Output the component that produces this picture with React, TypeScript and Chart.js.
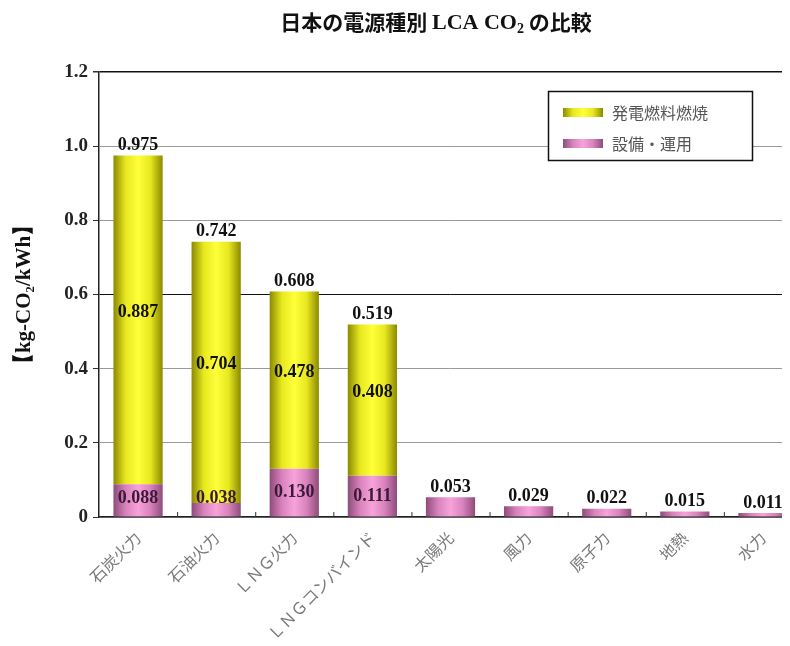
import React, { useEffect, useRef } from "react";
import { Chart, registerables } from "chart.js";

Chart.register(...registerables);

const categories = ["石炭火力", "石油火力", "ＬＮＧ火力", "ＬＮＧコンバインド", "太陽光", "風力", "原子力", "地熱", "水力"];
const facilityValues = [0.088, 0.038, 0.13, 0.111, 0.053, 0.029, 0.022, 0.015, 0.011];
const fuelValues = [0.887, 0.704, 0.478, 0.408, 0, 0, 0, 0, 0];
const totalLabels = ["0.975", "0.742", "0.608", "0.519", "0.053", "0.029", "0.022", "0.015", "0.011"];
const seriesNames = ["発電燃料燃焼", "設備・運用"];
const yTicks = [0, 0.2, 0.4, 0.6, 0.8, 1.0, 1.2];

const BAR_PCT = 0.63;
const YELLOW = ["#8a8a00", "#e8e820", "#ffff3a", "#e8e820", "#8a8a00"];
const PINK = ["#8e4c78", "#d982bd", "#f7a3da", "#d982bd", "#8e4c78"];
const SERIF = "'Liberation Serif', 'Times New Roman', serif";
const GOTHIC = "'Noto Sans CJK JP', sans-serif";

function makeGrad(c: CanvasRenderingContext2D, x0: number, x1: number, stops: string[]) {
  const g = c.createLinearGradient(x0, 0, x1, 0);
  stops.forEach((s, i) => g.addColorStop(i / (stops.length - 1), s));
  return g;
}

function barGrad(stops: string[]) {
  return (ctx: any) => {
    const chart = ctx.chart;
    if (!chart.chartArea || ctx.dataIndex === undefined) return stops[2];
    const xs = chart.scales.x;
    const c = xs.getPixelForValue(ctx.dataIndex);
    const w = (xs.width / categories.length) * BAR_PCT;
    return makeGrad(chart.ctx, c - w / 2, c + w / 2, stops);
  };
}

const labelPlugin = {
  id: "barLabels",
  afterDatasetsDraw(chart: any) {
    const c = chart.ctx;
    const pinkMeta = chart.getDatasetMeta(0);
    const yellowMeta = chart.getDatasetMeta(1);
    c.save();
    c.textAlign = "center";
    c.font = `bold 18px ${SERIF}`;
    categories.forEach((_, i) => {
      const p = pinkMeta.data[i];
      const y = yellowMeta.data[i];
      const top = fuelValues[i] > 0 ? y.y : p.y;
      c.fillStyle = "#111";
      c.textBaseline = "bottom";
      c.fillText(totalLabels[i], p.x, top - 1);
      if (fuelValues[i] > 0) {
        c.textBaseline = "middle";
        c.fillText(fuelValues[i].toFixed(3), y.x, (y.y + y.base) / 2 - 8);
        c.fillStyle = "#3a1a38";
        const mid = Math.min((p.y + p.base) / 2, p.base - 18);
        c.fillText(facilityValues[i].toFixed(3), p.x, mid);
      }
    });
    c.restore();
  },
};

const decorPlugin = {
  id: "decor",
  afterDraw(chart: any) {
    const c = chart.ctx;
    const area = chart.chartArea;
    const xs = chart.scales.x;
    c.save();
    c.strokeStyle = "#333";
    c.lineWidth = 1;
    for (let i = 1; i < categories.length; i++) {
      const bx = xs.getPixelForValue(i) - xs.width / categories.length / 2;
      c.beginPath();
      c.moveTo(bx + 0.5, area.bottom);
      c.lineTo(bx + 0.5, area.bottom - 5);
      c.stroke();
    }
    // title
    const parts: [string, string, number][] = [
      ["日本の電源種別 ", `bold 21px ${GOTHIC}`, 0],
      ["LCA CO", `bold 22px ${SERIF}`, 1],
      ["2", `bold 14px ${SERIF}`, 7],
      [" の比較", `bold 21px ${GOTHIC}`, 0],
    ];
    let total = 0;
    parts.forEach(([t, f]) => {
      c.font = f;
      total += c.measureText(t).width;
    });
    let x = 428 - total / 2;
    c.fillStyle = "#111";
    c.textBaseline = "middle";
    c.textAlign = "left";
    parts.forEach(([t, f, dy]) => {
      c.font = f;
      c.fillText(t, x, 14 + dy);
      x += c.measureText(t).width;
    });
    // legend
    const lx = 540, ly = 83, lw = 204, lh = 69;
    c.fillStyle = "#fff";
    c.fillRect(lx, ly, lw, lh);
    c.strokeStyle = "#111";
    c.lineWidth = 1.5;
    c.strokeRect(lx + 0.5, ly + 0.5, lw, lh);
    const items: [string, string[]][] = [
      [seriesNames[0], YELLOW],
      [seriesNames[1], PINK],
    ];
    items.forEach(([name, stops], k) => {
      const sy = ly + 17 + k * 31;
      c.fillStyle = makeGrad(c, lx + 15, lx + 55, stops);
      c.fillRect(lx + 15, sy, 40, 9);
      c.fillStyle = "#555";
      c.font = `16px ${GOTHIC}`;
      c.textBaseline = "middle";
      c.fillText(name, lx + 64, sy + 5);
    });
    c.restore();
  },
};

export default function App() {
  const ref = useRef<HTMLCanvasElement>(null);
  useEffect(() => {
    if (!ref.current) return;
    const chart = new Chart(ref.current, {
      type: "bar",
      data: {
        labels: categories,
        datasets: [
          {
            label: seriesNames[1],
            data: facilityValues,
            backgroundColor: barGrad(PINK),
            borderWidth: 0,
            barPercentage: BAR_PCT,
            categoryPercentage: 1,
          },
          {
            label: seriesNames[0],
            data: fuelValues,
            backgroundColor: barGrad(YELLOW),
            borderWidth: 0,
            barPercentage: BAR_PCT,
            categoryPercentage: 1,
          },
        ],
      },
      options: {
        animation: false,
        responsive: false,
        maintainAspectRatio: false,
        layout: { padding: { top: 64, right: 6, left: 0, bottom: 0 } },
        plugins: {
          legend: { display: false },
          title: { display: false },
          tooltip: { enabled: false },
        },
        scales: {
          x: {
            stacked: true,
            grid: { display: false },
            border: { color: "#222", width: 1.5 },
            ticks: {
              minRotation: 45,
              maxRotation: 45,
              autoSkip: false,
              color: "#7a7a7a",
              padding: 3,
              font: { family: GOTHIC, size: 16 },
            },
            afterFit: (s: any) => {
              s.height = 121;
            },
          },
          y: {
            stacked: true,
            min: 0,
            max: 1.2,
            afterBuildTicks: (s: any) => {
              s.ticks = yTicks.map((v) => ({ value: v }));
            },
            afterFit: (s: any) => {
              s.width = 91;
            },
            grid: {
              color: (ctx: any) => {
                const v = ctx.tick ? ctx.tick.value : 0;
                if (Math.abs(v - 0.6) < 1e-6 || Math.abs(v - 1.2) < 1e-6) return "#111";
                return "#9a9a9a";
              },
              lineWidth: (ctx: any) => {
                const v = ctx.tick ? ctx.tick.value : 0;
                return Math.abs(v - 1.2) < 1e-6 ? 1.5 : 1;
              },
              tickColor: "#333",
              tickLength: 6,
            },
            border: { color: "#222", width: 1.5 },
            ticks: {
              color: "#222",
              padding: 5,
              font: { family: SERIF, size: 19, weight: "bold" },
              callback: (v: any) => (Number(v) === 0 ? "0" : Number(v).toFixed(1)),
            },
            title: {
              display: true,
              text: "【kg-CO₂/kWh】",
              color: "#111",
              font: { family: SERIF, size: 21, weight: "bold" },
              padding: { top: 4, bottom: 4 },
            },
          },
        },
      },
      plugins: [labelPlugin, decorPlugin],
    });
    return () => chart.destroy();
  }, []);
  return (
    <div style={{ width: 782, height: 638, overflow: "hidden" }}>
      <canvas ref={ref} width={800} height={630} style={{ display: "block", width: 800, height: 630 }} />
    </div>
  );
}
